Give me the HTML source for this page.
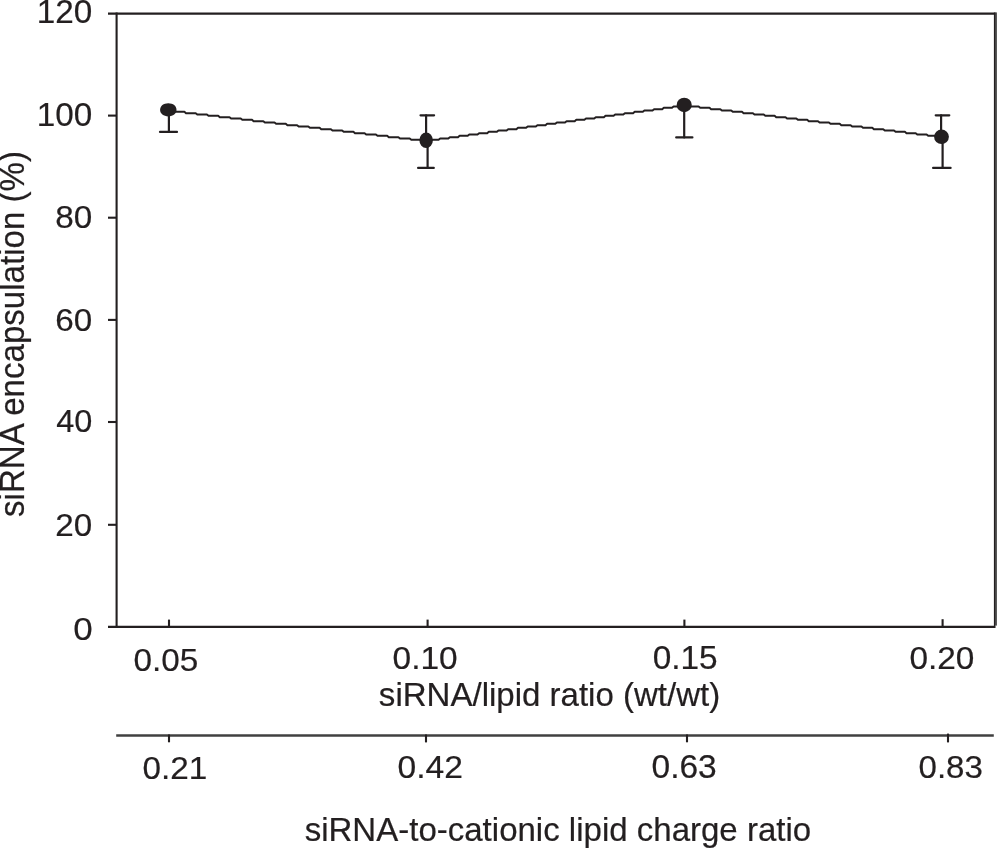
<!DOCTYPE html>
<html lang="en">
<head>
<meta charset="utf-8">
<title>siRNA encapsulation vs siRNA/lipid ratio</title>
<style>
  html, body { margin: 0; padding: 0; background: #ffffff; }
  body { width: 997px; height: 849px; overflow: hidden; }
  svg { display: block; }
  text { font-family: "Liberation Sans", Arial, Helvetica, sans-serif; font-size: 32px; fill: #231f20; stroke: #231f20; stroke-width: 0.2px; }
  .ln { stroke: #231f20; stroke-width: 2.1; fill: none; stroke-linecap: butt; }
  .eb { stroke-width: 2.2; stroke-linecap: round; }
</style>
</head>
<body>
<svg width="997" height="849" viewBox="0 0 997 849">
  <rect x="0" y="0" width="997" height="849" fill="#ffffff"/>

  <!-- frame -->
  <rect x="995" y="12.4" width="2" height="613.2" fill="#585858"/>
  <g class="ln">
    <line x1="116.6" y1="12.5" x2="116.6" y2="627.9"/>
    <line x1="108.0" y1="13.6" x2="995.3" y2="13.6"/>
    <line x1="108.0" y1="626.9" x2="995.3" y2="626.9"/>
    <line x1="994.6" y1="12.5" x2="994.6" y2="627.9" style="stroke-width:1.4"/>
    <!-- y ticks -->
    <line x1="108.0" y1="115.6" x2="116.6" y2="115.6"/>
    <line x1="108.0" y1="217.7" x2="116.6" y2="217.7"/>
    <line x1="108.0" y1="319.9" x2="116.6" y2="319.9"/>
    <line x1="108.0" y1="422.0" x2="116.6" y2="422.0"/>
    <line x1="108.0" y1="524.8" x2="116.6" y2="524.8"/>
    <!-- x ticks (inside) -->
    <line x1="169.0" y1="619.6" x2="169.0" y2="626.9"/>
    <line x1="427.6" y1="619.6" x2="427.6" y2="626.9"/>
    <line x1="684.4" y1="619.6" x2="684.4" y2="626.9"/>
    <line x1="942.6" y1="619.2" x2="942.6" y2="626.9"/>
  </g>
  <!-- second axis -->
  <line x1="116.2" y1="735.5" x2="993.8" y2="735.5" stroke="#404040" stroke-width="2.6"/>
  <g class="ln">
    <line x1="169.0" y1="734.5" x2="169.0" y2="742.3"/>
    <line x1="426.0" y1="734.5" x2="426.0" y2="742.4"/>
    <line x1="687.0" y1="734.5" x2="687.0" y2="742.3"/>
    <line x1="948.0" y1="733.6" x2="948.0" y2="742.4"/>
  </g>

  <!-- data line -->
  <path class="ln" style="stroke-width:2.0" stroke-linejoin="round" d="M168.3,110.50 L173.1,110.50 L174.7,111.83 L184.4,111.83 L186.0,113.17 L195.7,113.17 L197.3,114.50 L206.9,114.50 L208.5,115.83 L218.2,115.83 L219.8,117.17 L229.5,117.17 L231.1,118.50 L240.7,118.50 L242.3,119.83 L252.0,119.83 L253.6,121.17 L263.3,121.17 L264.9,122.50 L274.5,122.50 L276.1,123.83 L285.8,123.83 L287.4,125.17 L297.1,125.17 L298.7,126.50 L308.3,126.50 L309.9,127.83 L319.6,127.83 L321.2,129.17 L330.9,129.17 L332.5,130.50 L342.1,130.50 L343.7,131.83 L353.4,131.83 L355.0,133.17 L364.6,133.17 L366.2,134.50 L375.9,134.50 L377.5,135.83 L387.2,135.83 L388.8,137.17 L398.4,137.17 L400.0,138.50 L409.7,138.50 L411.3,139.83 L421.0,139.83 L422.6,141.17 L426.0,141.17 L426.0,141.17 L428.8,141.17 L430.4,139.83 L438.6,139.83 L440.2,138.50 L448.3,138.50 L449.9,137.17 L458.0,137.17 L459.6,135.83 L467.7,135.83 L469.3,134.50 L477.5,134.50 L479.1,133.17 L487.2,133.17 L488.8,131.83 L496.9,131.83 L498.5,130.50 L506.6,130.50 L508.2,129.17 L516.4,129.17 L518.0,127.83 L526.1,127.83 L527.7,126.50 L535.8,126.50 L537.4,125.17 L545.5,125.17 L547.1,123.83 L555.3,123.83 L556.9,122.50 L565.0,122.50 L566.6,121.17 L574.7,121.17 L576.3,119.83 L584.4,119.83 L586.0,118.50 L594.2,118.50 L595.8,117.17 L603.9,117.17 L605.5,115.83 L613.6,115.83 L615.2,114.50 L623.3,114.50 L624.9,113.17 L633.1,113.17 L634.7,111.83 L642.8,111.83 L644.4,110.50 L652.5,110.50 L654.1,109.17 L662.2,109.17 L663.8,107.83 L672.0,107.83 L673.6,106.50 L681.7,106.50 L683.3,105.17 L684.2,105.17 L684.2,105.17 L687.7,105.17 L689.3,106.50 L698.6,106.50 L700.2,107.83 L709.5,107.83 L711.1,109.17 L720.3,109.17 L721.9,110.50 L731.2,110.50 L732.8,111.83 L742.0,111.83 L743.6,113.17 L752.9,113.17 L754.5,114.50 L763.7,114.50 L765.3,115.83 L774.6,115.83 L776.2,117.17 L785.5,117.17 L787.1,118.50 L796.3,118.50 L797.9,119.83 L807.2,119.83 L808.8,121.17 L818.0,121.17 L819.6,122.50 L828.9,122.50 L830.5,123.83 L839.7,123.83 L841.3,125.17 L850.6,125.17 L852.2,126.50 L861.4,126.50 L863.0,127.83 L872.3,127.83 L873.9,129.17 L883.2,129.17 L884.8,130.50 L894.0,130.50 L895.6,131.83 L904.9,131.83 L906.5,133.17 L915.7,133.17 L917.3,134.50 L926.6,134.50 L928.2,135.83 L937.4,135.83 L939.0,137.17 L941.5,137.17"/>

  <!-- error bars -->
  <g class="ln eb">
    <line x1="168.9" y1="110" x2="168.9" y2="131.9"/>
    <line x1="160.0" y1="131.9" x2="177.0" y2="131.9"/>

    <line x1="426.1" y1="115.3" x2="426.1" y2="140.5"/>
    <line x1="427.6" y1="140.5" x2="427.6" y2="167.9"/>
    <line x1="420.5" y1="115.3" x2="434.1" y2="115.3"/>
    <line x1="418.1" y1="167.9" x2="433.8" y2="167.9"/>

    <line x1="684.2" y1="105" x2="684.2" y2="137.4"/>
    <line x1="676.2" y1="137.4" x2="692.4" y2="137.4"/>

    <line x1="941.1" y1="115.3" x2="941.1" y2="136.9"/>
    <line x1="942.6" y1="136.9" x2="942.6" y2="167.9"/>
    <line x1="935.7" y1="115.3" x2="949.3" y2="115.3"/>
    <line x1="933.1" y1="167.9" x2="950.6" y2="167.9"/>
  </g>

  <!-- markers -->
  <g fill="#231f20">
    <path d="M160.10,109.80 C160.10,105.94 163.50,103.20 168.30,103.20 C173.10,103.20 176.50,105.94 176.50,109.80 C176.50,113.66 173.10,116.40 168.30,116.40 C163.50,116.40 160.10,113.66 160.10,109.80 Z"/>
    <ellipse cx="426.15" cy="140.25" rx="6.75" ry="7.85"/>
    <ellipse cx="684.2" cy="104.95" rx="7.55" ry="7.25"/>
    <ellipse cx="941.5" cy="136.85" rx="7.4" ry="7.25"/>
  </g>

  <!-- labels -->
  <g>
    <text id="t120" transform="translate(36.86 22.65) scale(1.0400 1.0178)">120</text>
    <text id="t100" transform="translate(36.86 125.65) scale(1.0400 1.0178)">100</text>
    <text id="t80" transform="translate(55.30 228.35) scale(1.0406 1.0044)">80</text>
    <text id="t60" transform="translate(55.34 330.65) scale(1.0394 1.0044)">60</text>
    <text id="t40" transform="translate(56.14 432.15) scale(1.0163 0.9822)">40</text>
    <text id="t20" transform="translate(55.34 535.75) scale(1.0394 1.0044)">20</text>
    <text id="t0" transform="translate(73.13 639.95) scale(1.0951 0.9822)">0</text>
    <text id="x005" transform="translate(133.40 670.55) scale(1.0410 1.0044)">0.05</text>
    <text id="x010" transform="translate(392.49 668.55) scale(1.0477 1.0044)">0.10</text>
    <text id="x015" transform="translate(652.70 668.65) scale(1.0427 1.0089)">0.15</text>
    <text id="x020" transform="translate(909.39 668.55) scale(1.0444 1.0044)">0.20</text>
    <text id="xt1" transform="translate(378.87 705.70) scale(1.0328 1.0650)">siRNA/lipid ratio (wt/wt)</text>
    <text id="c021" transform="translate(142.50 779.35) scale(1.0400 1.0000)">0.21</text>
    <text id="c042" transform="translate(397.48 777.55) scale(1.0521 1.0089)">0.42</text>
    <text id="c063" transform="translate(651.49 777.55) scale(1.0477 1.0089)">0.63</text>
    <text id="c083" transform="translate(918.51 777.55) scale(1.0343 1.0089)">0.83</text>
    <text id="xt2" transform="translate(304.67 841.20) scale(1.0321 1.0650)">siRNA-to-cationic lipid charge ratio</text>
    <text id="yt" transform="translate(24.10 516.93) rotate(-90) scale(1.0342 1.09)">siRNA encapsulation (%)</text>
  </g>
</svg>
</body>
</html>
